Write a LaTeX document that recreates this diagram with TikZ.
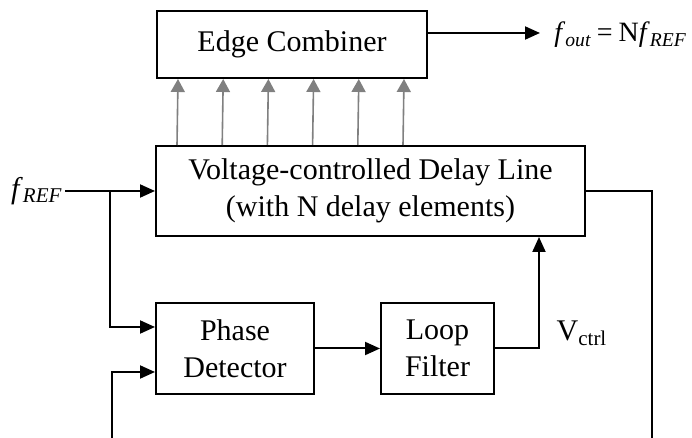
\documentclass[tikz,border=0pt]{standalone}
\usepackage{fontspec}
\setmainfont{Liberation Serif}
\usetikzlibrary{arrows.meta,positioning,calc}
\definecolor{tapgray}{rgb}{0.5,0.5,0.5}

\begin{document}
\begin{tikzpicture}[x=0.5pt,y=-0.5pt,
    block/.style={draw,line width=1pt,align=center,inner sep=0pt,font=\fontsize{15}{18.5}\selectfont},
    wire/.style={line width=1pt},
    sig/.style={wire,-{Triangle[length=7.5pt,width=6.5pt]}},
    tap/.style={tapgray,line width=0.8pt,-{Triangle[length=6.5pt,width=7pt]}},
    lbl/.style={inner sep=1pt,font=\fontsize{15}{18}\selectfont}]
    \useasboundingbox (0,0) rectangle (692,438);
    % blocks
    \node[block,minimum width=135pt,minimum height=33.5pt] (comb) at (292,44.5) {Edge Combiner};
    \node[block,minimum width=214.5pt,minimum height=45pt] (vcdl) at (370.5,191) {Voltage-controlled Delay Line\\(with N delay elements)};
    \node[block,minimum width=79pt,minimum height=45.5pt] (pd) at (235,348.5) {Phase\\Detector};
    \node[block,minimum width=56.5pt,minimum height=45.5pt] (lf) at (437.5,348.5) {Loop\\Filter};
    % labels and free ends
    \coordinate (in) at (65,191);
    \coordinate (split) at (110,191);
    \coordinate (out) at (540,33);
    \coordinate (fbtop) at (652,191);
    \coordinate (fbright) at (652,440);
    \coordinate (fbleft) at (112,440);
    \node[lbl,anchor=east] (fref) at (in) {\textit{f}\textsubscript{\textit{REF}}};
    \node[lbl,anchor=west,font=\fontsize{14}{17}\selectfont] (fout) at (552,35) {\textit{f}\textsubscript{\textit{out}}\kern2.5pt=\kern3pt N\textit{f}\textsubscript{\textit{REF}}};
    \node[lbl] (vctrl) at (582,333) {V\textsubscript{ctrl}};
    % taps
    \foreach \k in {0,...,5}
        \draw[tap] ([xshift=11pt+\k*22.6pt]vcdl.north west) -- ([xshift=11pt+\k*22.6pt]comb.south west);
    % signal path
    \draw[sig] ([yshift=5.75pt]comb.east) -- (out);
    \draw[sig] (in) -- (vcdl.west);
    \draw[sig] (split) |- ([yshift=10.75pt]pd.west);
    \draw[sig] (pd.east) -- (lf.west);
    \draw[sig] (lf.east) -| ([xshift=84.25pt]vcdl.south);
    \draw[wire] (vcdl.east) -- (fbtop) -- (fbright);
    \draw[sig] (fbleft) |- ([yshift=-11.75pt]pd.west);
\end{tikzpicture}
\end{document}
